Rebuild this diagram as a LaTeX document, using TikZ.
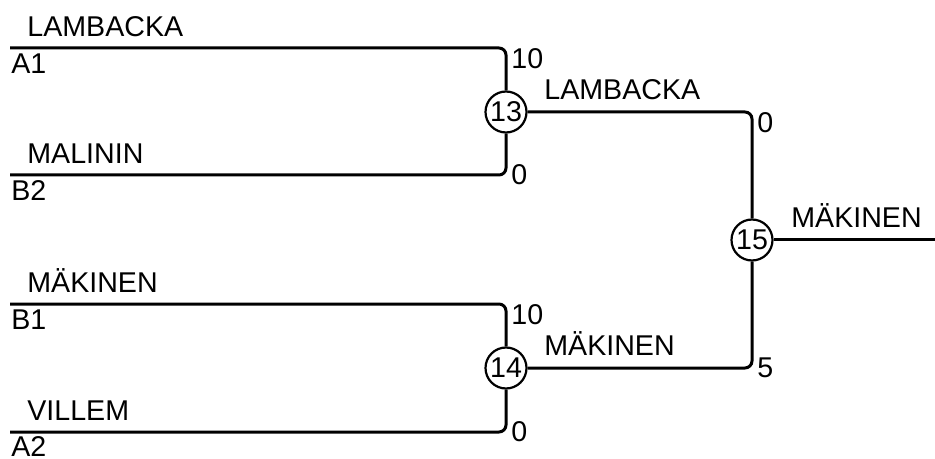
\documentclass[tikz,border=0pt]{standalone}
\usepackage{fontspec}
\setmainfont{Liberation Sans}
\usetikzlibrary{positioning}
\tikzstyle{wire} = [line width=1.5pt, rounded corners=3.5pt]
\tikzstyle{match} = [circle, draw=black, line width=1.1pt, minimum size=20.5pt, inner sep=0pt, fill=white]
\tikzstyle{player} = [anchor=south west, inner sep=0pt]
\tikzstyle{seed} = [anchor=north west, inner sep=0pt]
\tikzstyle{score} = [inner sep=0pt]

\begin{document}
\begin{tikzpicture}[x=0.5pt,y=-0.5pt,font=\fontsize{14.3pt}{16pt}\selectfont]
\useasboundingbox (0,0) rectangle (935,459);
% entries
\coordinate (a1) at (10,48);
\coordinate (b2) at (10,175);
\coordinate (b1) at (10,304);
\coordinate (a2) at (10,432);
\coordinate (out) at (935,240);
% matches
\node (m13) [match] at (506,112) {13};
\node (m14) [match] at (506,368) {14};
\node (m15) [match] at (752,240) {15};
\draw [wire] (a1) -| (m13);
\draw [wire] (b2) -| (m13);
\draw [wire] (b1) -| (m14);
\draw [wire] (a2) -| (m14);
\draw [wire] (m13) -| (m15);
\draw [wire] (m14) -| (m15);
\draw [wire] (m15) -- (out);
% names
\node (pa1) [player] at (27,37) {LAMBACKA};
\node (pb2) [player] at (27,164) {MALININ};
\node (pb1) [player] at (27,293) {MÄKINEN};
\node (pa2) [player] at (27,421) {VILLEM};
\node (w13) [player] at (544,100) {LAMBACKA};
\node (w14) [player] at (544,356) {MÄKINEN};
\node (w15) [player] at (791,228) {MÄKINEN};
% seeds
\node (sa1) [seed] at (11,53) {A1};
\node (sb2) [seed] at (11,180) {B2};
\node (sb1) [seed] at (11,309) {B1};
\node (sa2) [seed] at (11,436) {A2};
% scores
\node (ra1) [score,anchor=north west] at (511,48) {10};
\node (rb2) [score,anchor=west] at (511,175) {0};
\node (rb1) [score,anchor=north west] at (511,304) {10};
\node (ra2) [score,anchor=west] at (511,432) {0};
\node (r13) [score,anchor=north west] at (757,112) {0};
\node (r14) [score,anchor=west] at (757,368) {5};
\end{tikzpicture}
\end{document}
